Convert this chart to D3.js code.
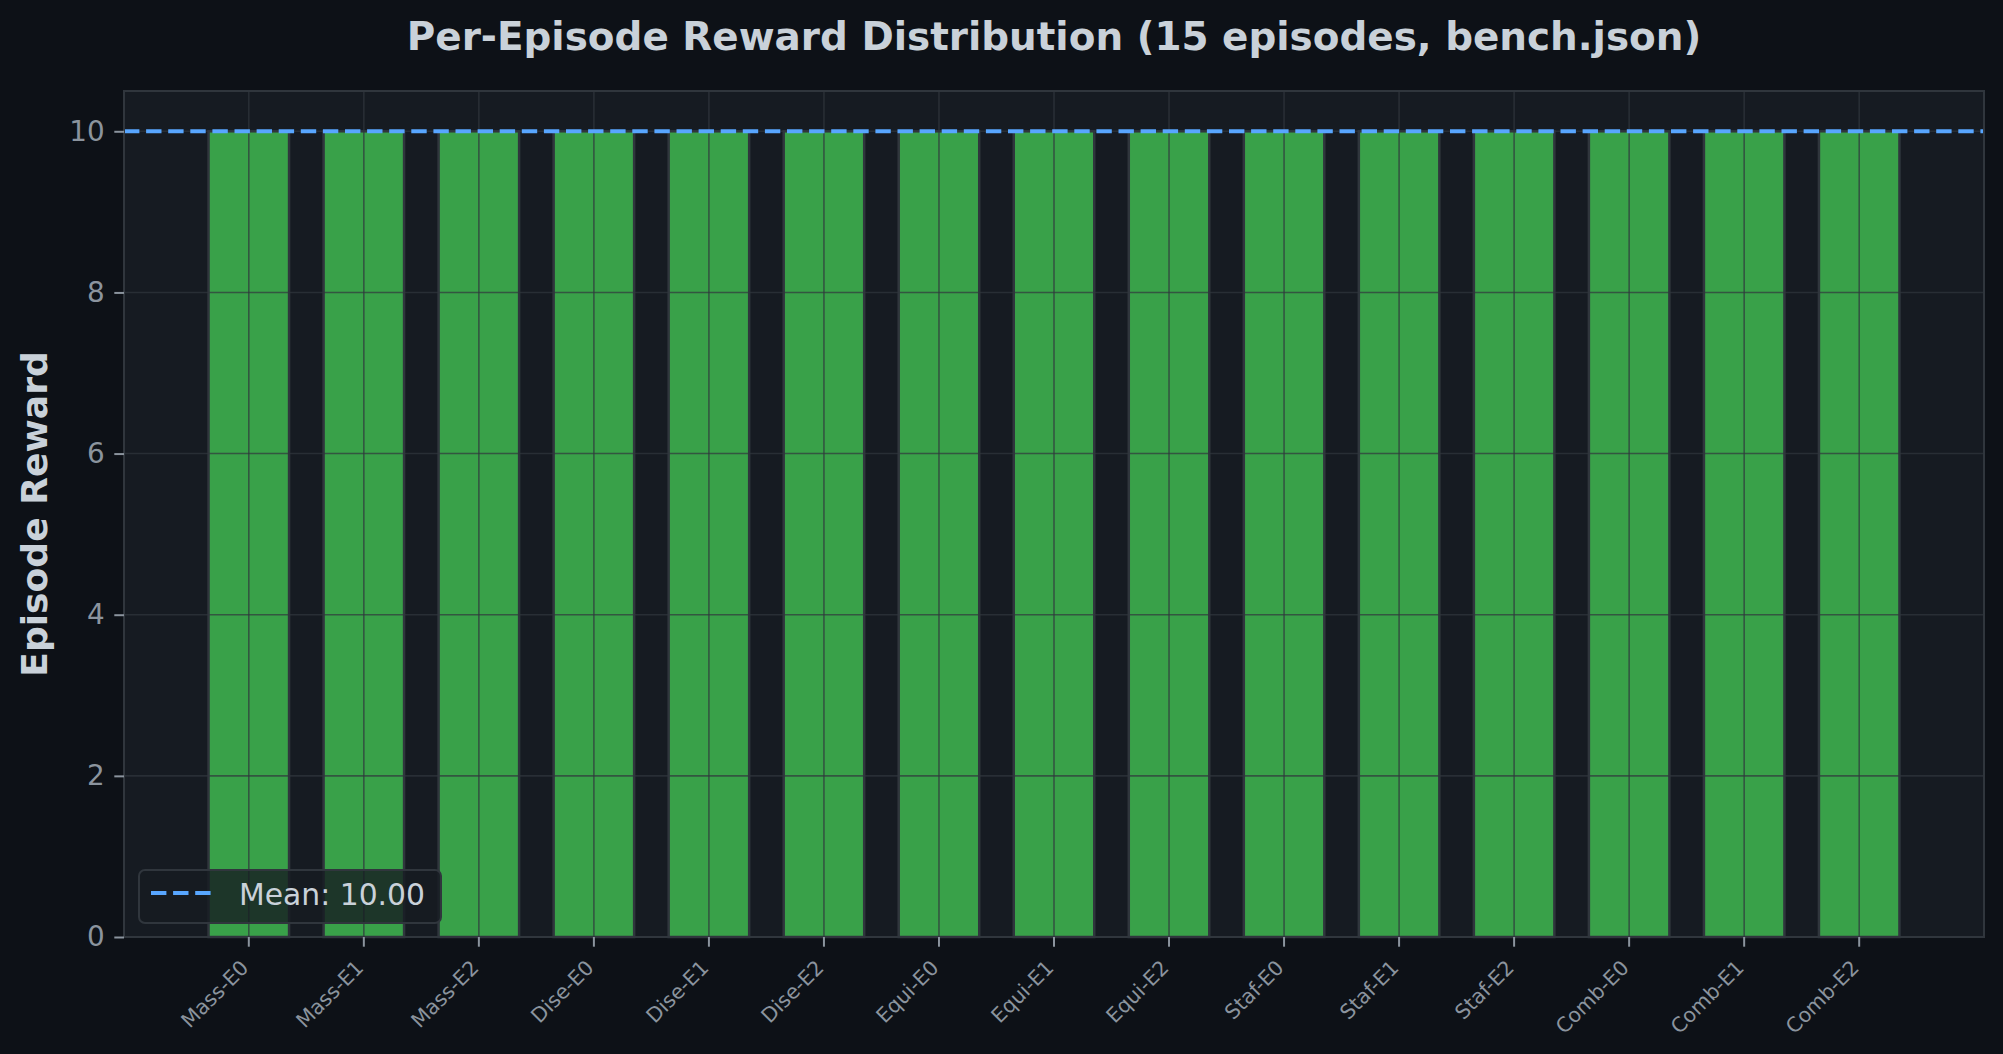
<!DOCTYPE html>
<html>
<head>
<meta charset="utf-8">
<script src="https://cdn.jsdelivr.net/npm/d3@7"></script>
<style>
  html, body { margin: 0; padding: 0; background: #0d1117; }
  svg { display: block; }
</style>
</head>
<body>
<script>
var width = 2003;
var height = 1054;

// episodes and their rewards
var episodes = ["Mass-E0", "Mass-E1", "Mass-E2", "Dise-E0", "Dise-E1", "Dise-E2",
                "Equi-E0", "Equi-E1", "Equi-E2", "Staf-E0", "Staf-E1", "Staf-E2",
                "Comb-E0", "Comb-E1", "Comb-E2"];
var rewards = [10, 10, 10, 10, 10, 10, 10, 10, 10, 10, 10, 10, 10, 10, 10];
var yTicks = [0, 2, 4, 6, 8, 10];

var meanReward = d3.mean(rewards);

var margin = {top: 91, right: 19, bottom: 117, left: 124};
var plotW = width - margin.left - margin.right;
var plotH = height - margin.top - margin.bottom;

var svg = d3.select("body")
            .append("svg")
            .attr("width", width)
            .attr("height", height)
            .style("font-family", "'DejaVu Sans', sans-serif");

svg.append("rect")
   .attr("width", width)
   .attr("height", height)
   .attr("fill", "#0d1117");

var g = svg.append("g")
           .attr("transform", "translate(" + margin.left + "," + margin.top + ")");

var x = d3.scaleBand()
          .domain(episodes)
          .range([0, plotW])
          .paddingInner(0.3)
          .paddingOuter(0.735);

var y = d3.scaleLinear()
          .domain([0, 10.5])
          .range([plotH, 0]);

// axes background
g.append("rect")
 .attr("width", plotW)
 .attr("height", plotH)
 .attr("fill", "#161b22");

// bars
g.selectAll(".bar")
 .data(rewards)
 .enter()
 .append("rect")
 .attr("class", "bar")
 .attr("x", function(d, i) { return x(episodes[i]); })
 .attr("y", function(d) { return y(d); })
 .attr("width", x.bandwidth())
 .attr("height", function(d) { return y(0) - y(d); })
 .attr("fill", "#3fb950")
 .attr("fill-opacity", 0.85)
 .attr("stroke", "#30363d")
 .attr("stroke-width", 2.5);

// grid over the bars
var grid = g.append("g").attr("stroke", "#30363d").attr("stroke-opacity", 0.7).attr("stroke-width", 1.6);
grid.selectAll(".hg")
    .data(yTicks)
    .enter()
    .append("line")
    .attr("x1", 0)
    .attr("x2", plotW)
    .attr("y1", function(d) { return y(d); })
    .attr("y2", function(d) { return y(d); });
grid.selectAll(".vg")
    .data(episodes)
    .enter()
    .append("line")
    .attr("x1", function(d) { return x(d) + x.bandwidth() / 2; })
    .attr("x2", function(d) { return x(d) + x.bandwidth() / 2; })
    .attr("y1", 0)
    .attr("y2", plotH);

// mean line
g.append("line")
 .attr("x1", 0)
 .attr("x2", plotW)
 .attr("y1", y(meanReward))
 .attr("y2", y(meanReward))
 .attr("stroke", "#58a6ff")
 .attr("stroke-width", 4)
 .attr("stroke-dasharray", "15.4,6.7");

// spines
g.append("rect")
 .attr("width", plotW)
 .attr("height", plotH)
 .attr("fill", "none")
 .attr("stroke", "#30363d")
 .attr("stroke-width", 2);

// y axis
var yAxis = g.append("g")
             .call(d3.axisLeft(y).tickValues(yTicks).tickSize(9.7).tickPadding(9.7));
yAxis.select(".domain").remove();
yAxis.selectAll(".tick line").attr("stroke", "#8b949e").attr("stroke-width", 2);
yAxis.selectAll(".tick text")
     .attr("fill", "#8b949e")
     .style("font-size", "27.8px")
     .style("font-family", "'DejaVu Sans', sans-serif");

// x axis
var xAxis = g.append("g")
             .attr("transform", "translate(0," + plotH + ")")
             .call(d3.axisBottom(x).tickSize(9.7).tickPadding(0));
xAxis.select(".domain").remove();
xAxis.selectAll(".tick line").attr("stroke", "#8b949e").attr("stroke-width", 2);
xAxis.selectAll(".tick text")
     .attr("fill", "#8b949e")
     .attr("text-anchor", "end")
     .attr("dy", null)
     .attr("y", null)
     .attr("transform", "translate(1,32) rotate(-45)")
     .style("font-size", "20.5px")
     .style("font-family", "'DejaVu Sans', sans-serif");

// title
svg.append("text")
   .attr("x", margin.left + plotW / 2)
   .attr("y", 50)
   .attr("text-anchor", "middle")
   .attr("fill", "#c9d1d9")
   .style("font-size", "38.9px")
   .style("font-weight", "bold")
   .text("Per-Episode Reward Distribution (15 episodes, bench.json)");

// y label
svg.append("text")
   .attr("transform", "translate(47," + (margin.top + plotH / 2) + ") rotate(-90)")
   .attr("text-anchor", "middle")
   .attr("fill", "#c9d1d9")
   .style("font-size", "36.1px")
   .style("font-weight", "bold")
   .text("Episode Reward");

// legend
var leg = svg.append("g").attr("transform", "translate(139,870)");
leg.append("rect")
   .attr("width", 302)
   .attr("height", 53)
   .attr("rx", 6)
   .attr("fill", "#161b22")
   .attr("fill-opacity", 0.8)
   .attr("stroke", "#30363d")
   .attr("stroke-width", 2);
leg.append("line")
   .attr("x1", 12)
   .attr("x2", 72)
   .attr("y1", 23)
   .attr("y2", 23)
   .attr("stroke", "#58a6ff")
   .attr("stroke-width", 4)
   .attr("stroke-dasharray", "15.4,6.7");
leg.append("text")
   .attr("x", 100)
   .attr("y", 35)
   .attr("fill", "#c9d1d9")
   .style("font-size", "29.8px")
   .text("Mean: " + meanReward.toFixed(2));
</script>
</body>
</html>
